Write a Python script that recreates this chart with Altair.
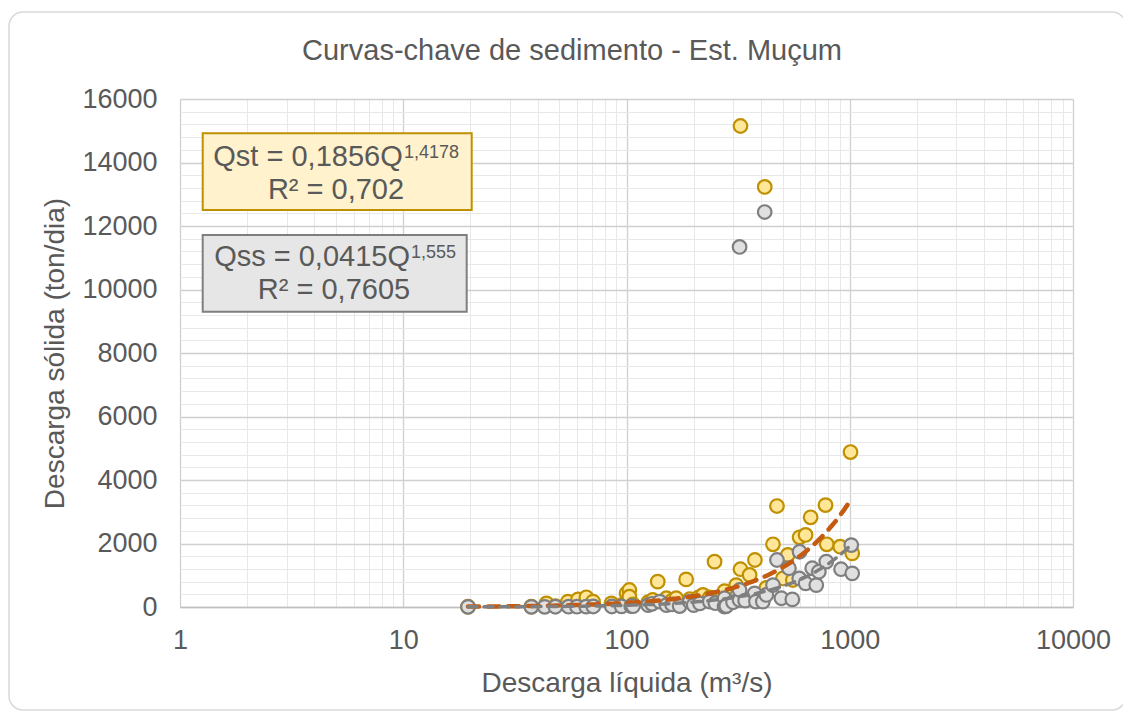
import altair as alt
import pandas as pd

# ---- data ----
qst_q = [19.5, 37.5, 43.8, 48, 54.7, 60.7, 66.1, 70.8, 85.6, 95,
         100, 103, 103, 107, 125, 131, 138, 151, 160, 167,
         185, 192, 210, 220, 236, 248, 275, 310, 324, 324,
         356, 376, 380, 416, 423, 453, 472, 502, 528, 556,
         596, 634, 668, 779, 789, 906, 1008, 1026]
qst_v = [8, 10, 115, 30, 170, 240, 305, 170, 115, 60,
         430, 535, 325, 80, 150, 220, 800, 275, 200, 275,
         870, 250, 300, 380, 300, 1430, 500, 690, 1190, 15150,
         1010, 1480, 400, 13230, 600, 1975, 3180, 900, 1640, 850,
         2195, 2270, 2825, 3210, 1975, 1900, 4880, 1690]

qss_q = [19.5, 37.5, 43, 48, 55, 60, 66, 71, 86, 95,
         105, 107, 125, 130, 141, 151, 160, 173, 192, 200,
         213, 236, 250, 275, 275, 280, 300, 321, 321, 321,
         340, 375, 380, 408, 416, 423, 453, 472, 494, 534,
         553, 594, 596, 634, 679, 708, 727, 785, 914, 1016,
         1026]
qss_v = [5, 5, 5, 8, 10, 10, 12, 15, 15, 20,
         30, 25, 60, 100, 170, 60, 80, 30, 170, 60,
         115, 170, 120, 275, 10, 30, 150, 220, 535, 11340,
         200, 430, 170, 170, 12440, 380, 690, 1480, 275, 1220,
         240, 900, 1740, 745, 1220, 690, 1110, 1430, 1190, 1950,
         1060]

# trendline coefficients as displayed (power fits)
st_a, st_b = 0.1856, 1.4178
ss_a, ss_b = 0.0415, 1.555
trend_lo, trend_hi = 19.5, 1026

x_ticks = [1, 10, 100, 1000, 10000]
x_minor = [2, 3, 4, 5, 6, 7, 8, 9,
           20, 30, 40, 50, 60, 70, 80, 90,
           200, 300, 400, 500, 600, 700, 800, 900,
           2000, 3000, 4000, 5000, 6000, 7000, 8000, 9000]
y_ticks = [0, 2000, 4000, 6000, 8000, 10000, 12000, 14000, 16000]
y_minor = [v * 400 for v in range(41)]

title_text = "Curvas-chave de sedimento - Est. Muçum"
x_title = "Descarga líquida (m³/s)"
y_title = "Descarga sólida (ton/dia)"

FONT = "Liberation Sans"
TXT = "#595959"

st_df = pd.DataFrame({"Q": qst_q, "V": qst_v})
ss_df = pd.DataFrame({"Q": qss_q, "V": qss_v})

xs = alt.Scale(type="log", domain=[1, 10000], nice=False)
ys = alt.Scale(domain=[0, 16000], nice=False)

minor = alt.Chart(st_df).mark_point(opacity=0).encode(
    x=alt.X("Q:Q", scale=xs, axis=alt.Axis(values=x_minor, grid=True, gridColor="#E8E8E8",
                                           gridWidth=1, labels=False, ticks=False, domain=False,
                                           title=None, orient="top")),
    y=alt.Y("V:Q", scale=ys, axis=alt.Axis(values=y_minor, grid=True, gridColor="#E8E8E8",
                                           gridWidth=1, labels=False, ticks=False, domain=False,
                                           title=None, orient="right")),
)

st_pts = alt.Chart(st_df).mark_circle(size=185, opacity=1, fill="#FFE699", stroke="#BF9000",
                                      strokeWidth=2.2).encode(
    x=alt.X("Q:Q", scale=xs, axis=alt.Axis(values=x_ticks, grid=True, gridColor="#D0D0D0",
                                           gridWidth=1.3, format="d", ticks=False, domain=True,
                                           domainColor="#BFBFBF", domainWidth=1.5,
                                           labelFont=FONT, labelFontSize=27, labelColor=TXT,
                                           labelPadding=20, labelFlush=False,
                                           title=x_title, titleFont=FONT, titleFontSize=28,
                                           titleFontWeight="normal", titleColor=TXT,
                                           titlePadding=16, orient="bottom")),
    y=alt.Y("V:Q", scale=ys, axis=alt.Axis(values=y_ticks, grid=True, gridColor="#D0D0D0",
                                           gridWidth=1.3, format="d", ticks=False, domain=False,
                                           labelFont=FONT, labelFontSize=27, labelColor=TXT,
                                           labelPadding=23,
                                           title=y_title, titleFont=FONT, titleFontSize=28,
                                           titleFontWeight="normal", titleColor=TXT,
                                           titlePadding=12, orient="left")),
)

ss_pts = alt.Chart(ss_df).mark_circle(size=185, opacity=1, fill="#E0E0E0", stroke="#7F7F7F",
                                      strokeWidth=2.2).encode(
    x=alt.X("Q:Q", scale=xs, axis=None),
    y=alt.Y("V:Q", scale=ys, axis=None),
)

seq = alt.sequence(0, 101, 1, as_="i")
trend_base = alt.Chart(seq).transform_calculate(
    Q=f"pow(10, log({trend_lo})/LN10 + datum.i * (log({trend_hi}) - log({trend_lo})) / LN10 / 100)"
)

st_trend = trend_base.transform_calculate(V=f"{st_a} * pow(datum.Q, {st_b})").mark_line(
    color="#C55A11", strokeWidth=4.5, strokeDash=[11, 9], strokeCap="round").encode(
    x=alt.X("Q:Q", scale=xs, axis=None),
    y=alt.Y("V:Q", scale=ys, axis=None),
)
ss_trend = trend_base.transform_calculate(V=f"{ss_a} * pow(datum.Q, {ss_b})").mark_line(
    color="#7F7F7F", strokeWidth=3.5, strokeDash=[9, 7], strokeCap="round").encode(
    x=alt.X("Q:Q", scale=xs, axis=None),
    y=alt.Y("V:Q", scale=ys, axis=None),
)

one = alt.Data(values=[{"k": 1}])

box_st = alt.Chart(one).mark_rect(fill="#FFF2CC", stroke="#BF9000", strokeWidth=2).encode(
    x=alt.value(22.7), x2=alt.value(291.7), y=alt.value(34.3), y2=alt.value(111))
box_ss = alt.Chart(one).mark_rect(fill="#E7E6E6", stroke="#7F7F7F", strokeWidth=2).encode(
    x=alt.value(22.7), x2=alt.value(286.7), y=alt.value(136), y2=alt.value(212.7))

def txt(text, x, y, size, align):
    return alt.Chart(one).mark_text(text=text, font=FONT, fontSize=size, color=TXT,
                                    align=align, baseline="alphabetic").encode(
        x=alt.value(x), y=alt.value(y))

texts = [
    txt("Qst = 0,1856Q", 222.7, 66.7, 29, "right"),
    txt("1,4178", 224, 58.5, 18, "left"),
    txt("R² = 0,702", 156, 100, 29, "center"),
    txt("Qss = 0,0415Q", 230, 166.7, 29, "right"),
    txt("1,555", 231, 158.5, 18, "left"),
    txt("R² = 0,7605", 154, 200, 29, "center"),
    txt(title_text, 392, -39, 29, "center"),
]

border = alt.Chart(one).mark_rect(fill="transparent", stroke="#D9D9D9", strokeWidth=1.5,
                                  cornerRadius=14).encode(
    x=alt.value(-171), x2=alt.value(946), y=alt.value(-87), y2=alt.value(611))

chart = alt.layer(minor, st_pts, ss_pts, st_trend, ss_trend, box_st, box_ss, *texts, border).resolve_axis(
    x="independent", y="independent"
).properties(
    width=893, height=508,
    autosize=alt.AutoSizeParams(type="none"),
    padding={"left": 172, "top": 91, "right": 50, "bottom": 104},
    background="white",
).configure_view(strokeWidth=0)

chart.save("out.html", embed_options={"renderer": "svg", "actions": False})
